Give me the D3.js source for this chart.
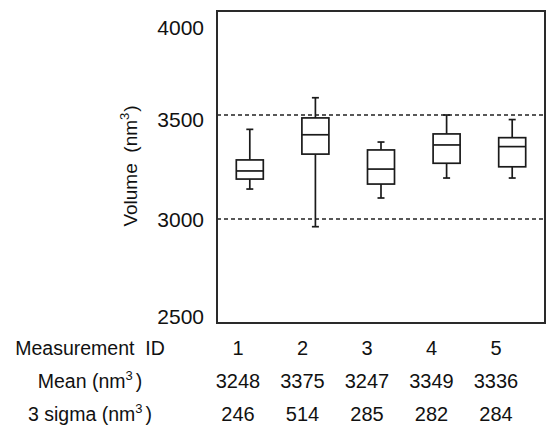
<!DOCTYPE html>
<html>
<head>
<meta charset="utf-8">
<script src="https://cdn.jsdelivr.net/npm/d3@7"></script>
<style>
  body { margin: 0; background: #fff; }
  text { font-family: "Liberation Sans", Arial, sans-serif; fill: #111; }
</style>
</head>
<body>
<script>
const ids        = ["1", "2", "3", "4", "5"]
const whiskerLow = [3144, 2963, 3101, 3197, 3197]
const q1         = [3192, 3312, 3168, 3268, 3251]
const median     = [3231, 3405, 3240, 3356, 3348]
const q3         = [3284, 3486, 3332, 3409, 3391]
const whiskerHi  = [3431, 3583, 3370, 3500, 3478]
const means      = [3248, 3375, 3247, 3349, 3336]
const sigma3     = [246, 514, 285, 282, 284]
const yTicks     = [2500, 3000, 3500, 4000]
const refLines   = [3000, 3500]

const width = 546, height = 425
const margin = { top: 11, right: 1, bottom: 102, left: 217 }
const innerW = width - margin.left - margin.right
const innerH = height - margin.top - margin.bottom

const boxes = ids.map((id, i) => ({
  id, lo: whiskerLow[i], q1: q1[i], med: median[i], q3: q3[i], hi: whiskerHi[i]
}))

const x = d3.scaleBand().domain(ids).range([0, innerW]).padding(0)
const y = d3.scaleLinear().domain([2500, 4000]).range([innerH, 0])
// table columns sit a little left of the boxes
const xTable = d3.scalePoint().domain(ids).range([238 - margin.left, 496 - margin.left])

const svg = d3.select("body").append("svg")
  .attr("width", width).attr("height", height)

const g = svg.append("g").attr("transform", `translate(${margin.left},${margin.top})`)

// dashed reference lines
g.selectAll(".ref").data(refLines).enter().append("line")
  .attr("x1", 0).attr("x2", innerW)
  .attr("y1", d => y(d)).attr("y2", d => y(d))
  .attr("stroke", "#222").attr("stroke-width", 1.4)
  .attr("stroke-dasharray", "4,3")

// y axis labels (no tick marks)
const yAxis = g.append("g")
  .call(d3.axisLeft(y).tickValues(yTicks).tickSize(0).tickPadding(13).tickFormat(d3.format("d")))
yAxis.select(".domain").remove()
const nudge = { 2500: -7, 3000: 0, 3500: 4, 4000: 16 }
yAxis.selectAll("text")
  .attr("font-size", 21).attr("fill", "#111")
  .attr("font-family", "Liberation Sans, Arial, sans-serif")
  .attr("dy", d => (nudge[d] + 7.5) + "px")

// frame
g.append("rect")
  .attr("x", 0).attr("y", 0).attr("width", innerW).attr("height", innerH)
  .attr("fill", "none").attr("stroke", "#2a2a2a").attr("stroke-width", 2)

// boxes
const bw = 27, cap = 7
const bx = g.selectAll(".box").data(boxes).enter().append("g")
  .attr("class", "box")
  .attr("transform", d => `translate(${x(d.id) + x.bandwidth() / 2},0)`)
  .attr("stroke", "#1a1a1a").attr("stroke-width", 1.7).attr("fill", "none")

bx.append("line").attr("x1", 0).attr("x2", 0)
  .attr("y1", d => y(d.hi)).attr("y2", d => y(d.q3))
bx.append("line").attr("x1", 0).attr("x2", 0)
  .attr("y1", d => y(d.q1)).attr("y2", d => y(d.lo))
bx.append("line").attr("x1", -cap / 2).attr("x2", cap / 2)
  .attr("y1", d => y(d.hi)).attr("y2", d => y(d.hi))
bx.append("line").attr("x1", -cap / 2).attr("x2", cap / 2)
  .attr("y1", d => y(d.lo)).attr("y2", d => y(d.lo))
bx.append("rect")
  .attr("x", -bw / 2).attr("width", bw)
  .attr("y", d => y(d.q3)).attr("height", d => y(d.q1) - y(d.q3))
  .attr("fill", "#fff")
bx.append("line").attr("x1", -bw / 2).attr("x2", bw / 2)
  .attr("y1", d => y(d.med)).attr("y2", d => y(d.med))

// y title
const yt = svg.append("text")
  .attr("transform", "translate(137,166) rotate(-90)")
  .attr("text-anchor", "middle")
  .attr("font-size", 19)
  .style("white-space", "pre")
yt.append("tspan").text("Volume  (nm")
yt.append("tspan").attr("font-size", 13).attr("dy", -8).text("3")
yt.append("tspan").attr("dy", 8).attr("dx", 1).text(")")

// table below the chart
const rows = [
  { label: ["Measurement  ID"], vals: ids, yb: 355 },
  { label: ["Mean (nm", "3", ")"], vals: means, yb: 388 },
  { label: ["3 sigma (nm", "3", ")"], vals: sigma3, yb: 421 }
]
rows.forEach(r => {
  const t = svg.append("text")
    .attr("x", 90).attr("y", r.yb)
    .attr("text-anchor", "middle").attr("font-size", 19.5)
    .style("white-space", "pre")
  t.append("tspan").text(r.label[0])
  if (r.label.length > 1) {
    t.append("tspan").attr("font-size", 13).attr("dy", -8).text(r.label[1])
    t.append("tspan").attr("dy", 8).attr("dx", 3).text(r.label[2])
  }
  svg.append("g").selectAll("text").data(r.vals).enter().append("text")
    .attr("x", (d, i) => margin.left + xTable(ids[i]))
    .attr("y", r.yb)
    .attr("text-anchor", "middle").attr("font-size", 20)
    .text(d => d)
})
</script>
</body>
</html>
